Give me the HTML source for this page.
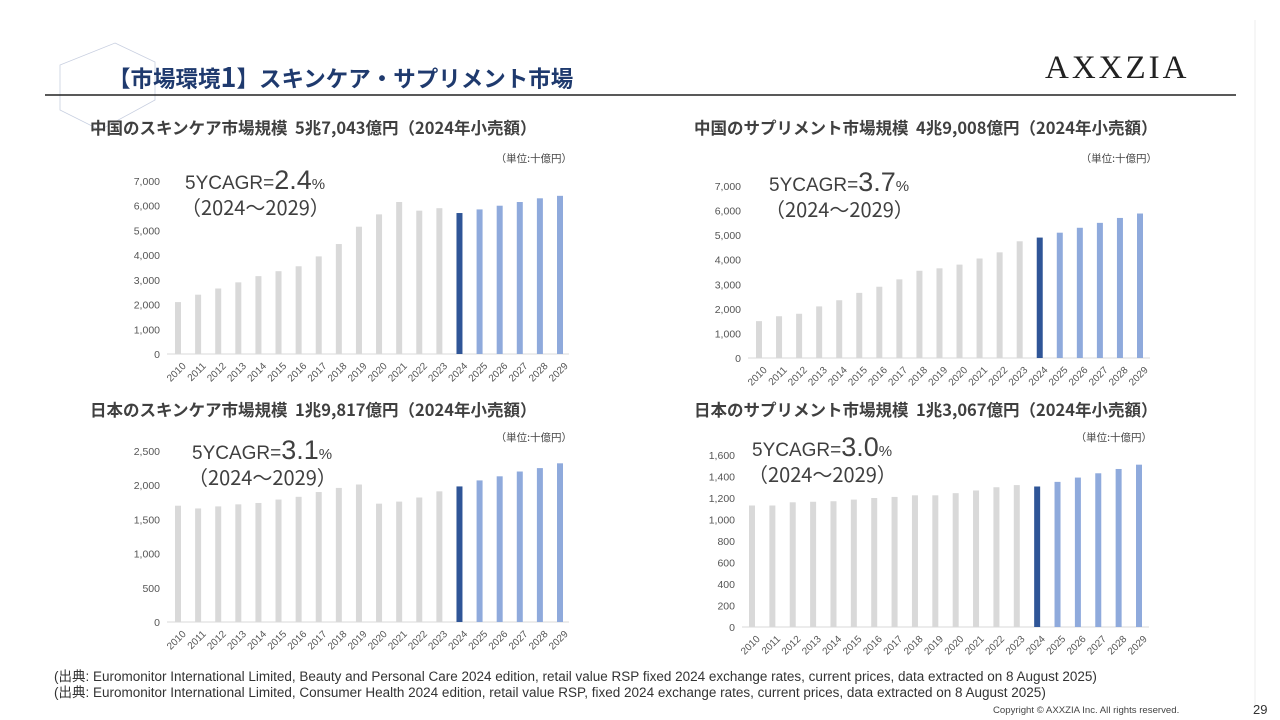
<!DOCTYPE html>
<html><head><meta charset="utf-8"><style>
body{margin:0;width:1280px;height:720px;background:#fff;overflow:hidden;font-family:"Liberation Sans","Noto Sans CJK JP",sans-serif;position:relative}
.abs{position:absolute;white-space:nowrap}
.ct{font-family:"Noto Sans CJK JP",sans-serif;font-size:16.5px;font-weight:bold;color:#404040}
</style></head><body>
<svg class="abs" style="left:0;top:0" width="1280" height="720">
<polygon points="115,43 155,62 155,100 100,130 60,110 60,65" fill="none" stroke="#c8cfe0" stroke-width="0.8"/>
<line x1="45" y1="95" x2="1236" y2="95" stroke="#222" stroke-width="1.5"/>
<line x1="1255" y1="20" x2="1255" y2="705" stroke="#eee" stroke-width="1"/>
</svg>
<div class="abs" style="left:108px;top:59px;font-size:22.5px;font-weight:bold;color:#1f3a6e;font-family:'Noto Sans CJK JP',sans-serif;line-height:34px">【市場環境<span style="font-size:27px">1</span>】スキンケア・サプリメント市場</div>
<div class="abs" style="left:1045px;top:50px;font-family:'Liberation Serif',serif;font-size:33px;letter-spacing:3px;color:#222">AXXZIA</div>

<div class="abs ct" style="left:90px;top:115px">中国のスキンケア市場規模&nbsp; 5兆7,043億円（2024年小売額）</div>
<div class="abs ct" style="left:694px;top:115px">中国のサプリメント市場規模&nbsp; 4兆9,008億円（2024年小売額）</div>
<div class="abs ct" style="left:90px;top:397px">日本のスキンケア市場規模&nbsp; 1兆9,817億円（2024年小売額）</div>
<div class="abs ct" style="left:694px;top:397px">日本のサプリメント市場規模&nbsp; 1兆3,067億円（2024年小売額）</div>

<svg id="charts" class="abs" style="left:0;top:0" width="1280" height="720"></svg>

<div class="abs" style="left:54px;top:669px;font-size:13.5px;color:#333;line-height:15.5px">(出典: Euromonitor International Limited, Beauty and Personal Care 2024 edition, retail value RSP fixed 2024 exchange rates, current prices, data extracted on 8 August 2025)<br>(出典: Euromonitor International Limited, Consumer Health 2024 edition, retail value RSP, fixed 2024 exchange rates, current prices, data extracted on 8 August 2025)</div>
<div class="abs" style="left:993px;top:705px;font-size:9.6px;color:#444">Copyright © AXXZIA Inc. All rights reserved.</div>
<div class="abs" style="left:1253px;top:702px;font-size:13px;color:#333">29</div>

<script>
const years=[2010,2011,2012,2013,2014,2015,2016,2017,2018,2019,2020,2021,2022,2023,2024,2025,2026,2027,2028,2029];
const cnSkin=[2100,2400,2650,2900,3150,3350,3550,3950,4450,5150,5650,6150,5800,5900,5704,5850,6000,6150,6300,6400];
const cnSupp=[1500,1700,1800,2100,2350,2650,2900,3200,3550,3650,3800,4050,4300,4750,4901,5100,5300,5500,5700,5880];
const jpSkin=[1700,1660,1690,1720,1740,1790,1830,1900,1960,2010,1730,1760,1820,1910,1982,2070,2130,2200,2250,2320];
const jpSupp=[1130,1130,1160,1165,1170,1185,1200,1210,1225,1225,1245,1270,1300,1320,1307,1350,1390,1430,1470,1510];
const ticksBig=[0,1000,2000,3000,4000,5000,6000,7000];
const ticksJpSkin=[0,500,1000,1500,2000,2500];
const ticksJpSupp=[0,200,400,600,800,1000,1200,1400,1600];
const cagrs=["2.4","3.7","3.1","3.0"];
const NS="http://www.w3.org/2000/svg";
const svg=document.getElementById('charts');
function mk(t,a){const e=document.createElementNS(NS,t);for(const k in a)e.setAttribute(k,a[k]);svg.appendChild(e);return e;}
function chart(o,vals,ticks,cagr,name){
  const max=ticks[ticks.length-1];
  const y=v=>o.y0-(v/max)*(o.y0-o.yTop);
  const x=i=>o.x0+i*(o.x1-o.x0)/(years.length-1);
  ticks.forEach(t=>{
    const tx=mk('text',{x:o.labX,y:y(t)+4,'text-anchor':'end','font-size':'10.5','fill':'#555','font-family':'Liberation Sans, sans-serif'});
    
    
    tx.textContent=t.toLocaleString('en-US');
  });
  const ax=mk('line',{x1:o.ax0,x2:o.ax1,y1:o.y0,y2:o.y0,stroke:'#d9d9d9','stroke-width':1});
  
  
  vals.forEach((v,i)=>{
    const c=years[i]<2024?'#d9d9d9':years[i]==2024?'#2f5597':'#8faadc';
    const r=mk('rect',{x:x(i)-3,y:y(v),width:6,height:o.y0-y(v),fill:c});
    
    
    const lx=x(i)+4, ly=o.y0+8;
    const t=mk('text',{x:lx,y:ly,'text-anchor':'end','font-size':'10','fill':'#555',transform:`rotate(-45 ${lx} ${ly})`,'dominant-baseline':'hanging','font-family':'Liberation Sans, sans-serif'});
    
    
    t.textContent=years[i];
  });
  const u=mk('text',{x:o.unitX,y:o.unitY,'text-anchor':'end','font-size':'10.5','fill':'#444','font-family':'Noto Sans CJK JP, sans-serif'});
  
  
  u.textContent='（単位:十億円）';
  const g=mk('text',{x:o.cx,y:o.cy,'font-size':'19','fill':'#404040','font-family':'Liberation Sans, Noto Sans CJK JP, sans-serif'});
  
  
  g.innerHTML='5YCAGR=<tspan font-size="27">'+cagr+'</tspan><tspan font-size="15">%</tspan>';
  const p=mk('text',{x:o.cx-4,y:o.cy+26,'font-size':'20','fill':'#404040','font-family':'Noto Sans CJK JP, sans-serif'});
  
  
  p.textContent='（2024～2029）';
}
chart({x0:178,x1:560,ax0:167,ax1:569,y0:354,yTop:181,labX:160,unitX:572,unitY:162,cx:185,cy:189},cnSkin,ticksBig,cagrs[0],'cn-skincare');
chart({x0:759,x1:1140,ax0:748,ax1:1150,y0:358,yTop:186,labX:741,unitX:1157,unitY:162,cx:769,cy:191},cnSupp,ticksBig,cagrs[1],'cn-supplement');
chart({x0:178,x1:560,ax0:167,ax1:569,y0:622,yTop:451,labX:160,unitX:572,unitY:441,cx:192,cy:459},jpSkin,ticksJpSkin,cagrs[2],'jp-skincare');
chart({x0:752,x1:1139,ax0:742,ax1:1149,y0:627,yTop:455,labX:735,unitX:1152,unitY:441,cx:752,cy:456},jpSupp,ticksJpSupp,cagrs[3],'jp-supplement');
</script>
</body></html>
